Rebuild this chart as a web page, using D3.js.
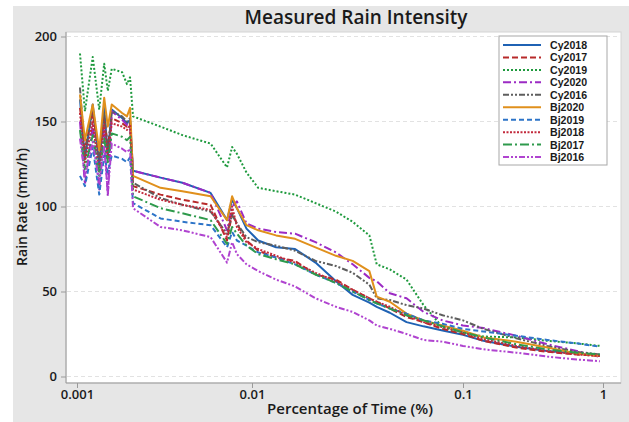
<!DOCTYPE html>
<html>
<head>
<meta charset="utf-8">
<script src="https://cdn.jsdelivr.net/npm/d3@7"></script>
<style>
  body { margin: 0; background: #fff; }
  text { font-family: "Open Sans", "Noto Sans", sans-serif; }
</style>
</head>
<body>
<div id="chart"></div>
<script>
// Measured rain intensity - rain rate vs percentage of time

// shared x positions (percentage of time)
const times = [0.00104, 0.00111, 0.00123, 0.00134, 0.00143, 0.0015, 0.00158, 0.00181, 0.00193, 0.00201, 0.00209,
  0.003, 0.004, 0.0058, 0.0072, 0.0077, 0.0082, 0.0093, 0.0107, 0.013, 0.016, 0.02, 0.025, 0.03, 0.036, 0.039,
  0.045, 0.054, 0.065, 0.08, 0.1, 0.14, 0.24, 0.4, 0.65, 0.95];

const seriesNames = ['Cy2018', 'Cy2017', 'Cy2019', 'Cy2020', 'Cy2016', 'Bj2020', 'Bj2019', 'Bj2018', 'Bj2017', 'Bj2016'];

// rain rate (mm/h) for each series, one value per time
const cy2018 = [163, 128, 160, 124, 158, 130, 157, 152, 149, 151, 121,
  117, 114, 108, 92, 104, 99, 87, 80, 76, 75, 67, 56, 48, 43.5, 41, 37.5, 32, 29.5, 27, 24.5, 21, 17.5, 15, 13.5, 12.5];
const cy2017 = [158, 134, 155, 130, 152, 136, 152, 149, 147, 149, 112,
  107, 104, 101, 80, 96, 90, 80, 74, 70, 68, 60, 57, 51, 46, 44, 40, 35, 32, 28, 25, 21, 17, 14.5, 13, 12];
const cy2019 = [190, 156, 188, 157, 184, 168, 181, 179, 172, 176, 153,
  147, 142, 137, 123, 135, 131, 120, 111, 109, 107, 102, 97, 91, 83, 66, 63, 57, 42, 29, 26, 23.5, 23, 21, 19.5, 18];
const cy2020 = [150, 113, 148, 110, 146, 106, 156, 151, 148, 150, 121,
  117, 114, 108, 86, 100, 103, 90, 87, 85, 84, 79, 73, 66, 58, 56, 49, 46, 38, 33, 30, 28.5, 24, 19, 15, 11.5];
const cy2016 = [170, 130, 158, 128, 155, 132, 156, 153, 150, 152, 114,
  105, 101, 97, 84, 95, 90, 82, 79, 77, 74, 68, 65, 61, 54, 46, 45, 42, 40, 36, 33, 28, 22.5, 18, 14.5, 13];
const bj2020 = [166, 139, 160, 133, 164, 147, 160, 155, 153, 158, 118,
  111, 109, 106, 92, 106, 99, 89, 86, 83, 81, 76, 71, 68, 62, 47, 44, 37, 33, 30, 27, 23, 20.5, 17, 13.5, 12];
const bj2019 = [118, 112, 135, 107, 130, 120, 130, 128, 126, 129, 102,
  93, 91, 89, 76, 85, 80, 77, 73, 70, 66, 60, 55, 50, 45, 43, 40, 37, 33, 31, 28, 26.5, 24, 21.5, 19.5, 17.5];
const bj2018 = [155, 126, 150, 120, 148, 128, 149, 147, 145, 148, 110,
  104, 101, 98, 82, 100, 88, 79, 75, 71, 67, 61, 56, 51, 46, 44, 41, 36, 32, 29, 26, 22, 18, 15, 13, 12];
const bj2017 = [145, 122, 142, 118, 140, 126, 143, 141, 139, 141, 106,
  99, 96, 92, 78, 88, 84, 77, 72, 69, 66, 60, 55, 50, 45, 43, 40, 36, 33, 29.5, 26, 23, 19, 16, 14, 13];
const bj2016 = [140, 118, 138, 114, 135, 108, 137, 134, 132, 134, 99,
  88, 86, 82, 67, 79, 72, 66, 62, 57, 53, 46, 41, 38, 33, 30, 28, 25, 21.5, 20.5, 18, 16, 14, 11.7, 10, 9];

const xTicks = [0.001, 0.01, 0.1, 1];
const xTickLabels = ['0.001', '0.01', '0.1', '1'];
const yTicks = [0, 50, 100, 150, 200];

const seriesValues = [cy2018, cy2017, cy2019, cy2020, cy2016, bj2020, bj2019, bj2018, bj2017, bj2016];
const colors = ['#1f62b4', '#b82a2a', '#1f9a3e', '#9c2bc4', '#5e5e5e', '#e0901c', '#2d74c8', '#c22a3c', '#2e9a4c', '#b044d0'];
const dashes = ['none', '6,3', '2,2', '8,3,2,3', '6,2,2,2,2,2', 'none', '5,3', '2,1.5', '9,3,2,3', '6,2,2,2,2,2'];

const width = 629, height = 422;
const plot = { left: 66, right: 621, top: 32, bottom: 383 };

const svg = d3.select('#chart').append('svg')
  .attr('width', width)
  .attr('height', height);

// grey frame
svg.append('rect')
  .attr('x', 13).attr('y', 6)
  .attr('width', width - 13).attr('height', height - 6)
  .attr('fill', '#e6e6e6');

svg.append('rect')
  .attr('x', plot.left).attr('y', plot.top)
  .attr('width', plot.right - plot.left).attr('height', plot.bottom - plot.top)
  .attr('fill', '#fff')
  .attr('stroke', '#d4d4d4');

// scales (axis labels are not evenly spaced in the original)
const x = d3.scaleLog()
  .domain([0.001, 0.01, 0.1, 1])
  .range([77, 252, 463, 603]);

const y = d3.scaleLinear()
  .domain([0, 200])
  .range([376.5, 36.5]);

// grid
svg.append('g')
  .selectAll('line')
  .data(yTicks)
  .enter().append('line')
  .attr('x1', plot.left + 1).attr('x2', plot.right - 1)
  .attr('y1', d => y(d)).attr('y2', d => y(d))
  .attr('stroke', '#e2e2e2')
  .attr('stroke-dasharray', '4,3');

// axes
let yAxis = svg.append('g')
  .attr('transform', `translate(${plot.left},0)`)
  .call(d3.axisLeft(y).tickValues(yTicks).tickSize(5).tickPadding(4));

let xAxis = svg.append('g')
  .attr('transform', `translate(0,${plot.bottom})`)
  .call(d3.axisBottom(x).tickValues(xTicks).tickFormat((d, i) => xTickLabels[i]).tickSize(5).tickPadding(2));

[yAxis, xAxis].forEach(a => {
  a.select('.domain').attr('stroke', '#9a9a9a');
  a.selectAll('.tick line').attr('stroke', '#9a9a9a');
  a.selectAll('.tick text')
    .attr('fill', '#1a1a1a')
    .style('font-size', '13px')
    .style('font-weight', '600');
});
xAxis.select('.domain').attr('d', `M${plot.left},0H${plot.right}`);
yAxis.select('.domain').attr('d', `M0,${plot.top}V${plot.bottom}`);

// lines
const line = d3.line()
  .x((d, i) => x(times[i]))
  .y(d => y(d));

svg.append('g')
  .selectAll('path')
  .data(seriesValues)
  .enter().append('path')
  .attr('d', line)
  .attr('fill', 'none')
  .attr('stroke', (d, i) => colors[i])
  .attr('stroke-width', 2)
  .attr('stroke-dasharray', (d, i) => dashes[i])
  .attr('stroke-linejoin', 'round');

// titles
svg.append('text')
  .attr('x', 356).attr('y', 24)
  .attr('text-anchor', 'middle')
  .style('font-size', '19px')
  .style('font-weight', '600')
  .attr('fill', '#1a1a1a')
  .text('Measured Rain Intensity');

svg.append('text')
  .attr('x', 350).attr('y', 414)
  .attr('text-anchor', 'middle')
  .style('font-size', '15px')
  .style('font-weight', '600')
  .attr('fill', '#1a1a1a')
  .text('Percentage of Time (%)');

svg.append('text')
  .attr('transform', 'translate(27,207) rotate(-90)')
  .attr('text-anchor', 'middle')
  .style('font-size', '14px')
  .style('font-weight', '600')
  .attr('fill', '#1a1a1a')
  .text('Rain Rate (mm/h)');

// legend
let legend = svg.append('g');
legend.append('rect')
  .attr('x', 499).attr('y', 36)
  .attr('width', 108).attr('height', 129)
  .attr('fill', '#fff')
  .attr('stroke', '#a8a8a8');

let rows = legend.selectAll('g.row')
  .data(seriesNames)
  .enter().append('g')
  .classed('row', true)
  .attr('transform', (d, i) => `translate(0,${45 + i * 12.45})`);

rows.append('line')
  .attr('x1', 503).attr('x2', 541)
  .attr('stroke', (d, i) => colors[i])
  .attr('stroke-width', 2)
  .attr('stroke-dasharray', (d, i) => dashes[i]);

rows.append('text')
  .attr('x', 550).attr('y', 4)
  .style('font-family', '"Liberation Sans", Arial, sans-serif')
  .style('font-size', '10.6px')
  .style('font-weight', 'bold')
  .attr('fill', '#1a1a1a')
  .text(d => d);
</script>
</body>
</html>
